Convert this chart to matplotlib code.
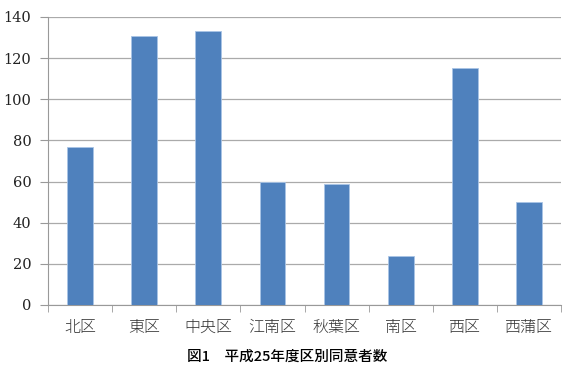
import matplotlib
matplotlib.use("Agg")
import matplotlib.pyplot as plt
import numpy as np

categories = ["北区", "東区", "中央区", "江南区", "秋葉区", "南区", "西区", "西蒲区"]
values = [77, 131, 133, 60, 59, 24, 115, 50]
yticks = [0, 20, 40, 60, 80, 100, 120, 140]
title = "図1　平成25年度区別同意者数"

fig = plt.figure(figsize=(5.7, 3.8), dpi=100)
L, R, T, B = 48, 561, 17, 305
ax = fig.add_axes([L/570, 1-B/380, (R-L)/570, (B-T)/380])

x = np.arange(len(categories))
ax.bar(x, values, width=0.4, color="#4F81BD", edgecolor="#A9C4E6", linewidth=0.6, zorder=3)

ax.set_xlim(-0.5, len(categories)-0.5)
ax.set_ylim(0, 140)
ax.set_yticks(yticks, [str(v) for v in yticks])
ax.tick_params(axis="y", length=6, color="#999999", pad=6,
               labelfontfamily="DejaVu Serif", labelsize=10.5, labelcolor="#222222")
ax.yaxis.grid(True, color="#AAAAAA", linewidth=0.9, zorder=0)

ax.set_xticks(x, categories)
for lab in ax.get_xticklabels():
    lab.set_fontweight("light")
ax.tick_params(axis="x", length=0, pad=10, labelfontfamily="Noto Sans CJK JP",
               labelsize=11.5, labelcolor="#333333")
ax.set_xticks(np.arange(len(categories)+1)-0.5, minor=True)
ax.tick_params(axis="x", which="minor", length=5, color="#999999")

for s in ["top", "right"]:
    ax.spines[s].set_visible(False)
ax.spines["left"].set_color("#999999")
ax.spines["bottom"].set_color("#999999")

fig.text(287/570, 1-357/380, title, ha="center", va="center",
         family=["Noto Sans CJK JP", "DejaVu Sans"], fontsize=10.5, fontweight="medium")

fig.savefig("out.png", dpi=100)
